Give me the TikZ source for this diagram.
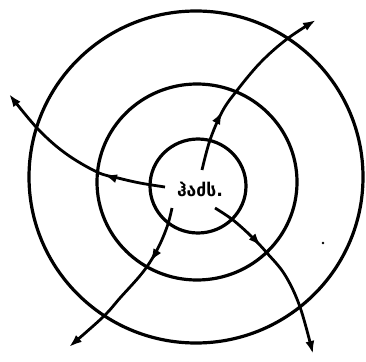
\documentclass[tikz,border=0pt]{standalone}
\usepackage{fontspec}
\newfontfamily\geofont{DejaVu Sans}
\usetikzlibrary{arrows.meta,decorations.markings}
\tikzset{
  ring/.style={draw=black,line width=3.2pt},
  ray/.style={draw=black,line width=2.8pt,-{Latex[length=13pt,width=9pt]},
    postaction={decorate}},
  midtip/.style={decoration={markings,mark=at position #1 with {\arrow{Latex[length=13pt,width=9pt]}}}},
  lbl/.style={font=\geofont\bfseries\fontsize{17.5}{19}\selectfont,inner sep=1pt}
}
\begin{document}
\begin{tikzpicture}[x=1pt,y=-1pt]
\useasboundingbox (0,0) rectangle (366,361);
% rings
\draw[ring] (196,177) ellipse[x radius=167,y radius=166];
\draw[ring] (197,182) ellipse[x radius=100,y radius=98];
\draw[ring] (198,186) ellipse[x radius=48,y radius=47];
% centre label
\node[lbl] (c) at (200,189) {ჰაძს.};
% start and end points
\coordinate (s1) at (202,170);
\coordinate (e1) at (316,20);
\coordinate (s2) at (165,187);
\coordinate (e2) at (9,94);
\coordinate (s3) at (172,208);
\coordinate (e3) at (69,347);
\coordinate (s4) at (215,208);
\coordinate (e4) at (313,354);
% rays
\draw[ray,midtip=0.32] plot[smooth,tension=0.6] coordinates {(s1) (210,140) (222,112) (235,93) (260,63) (287,39) (e1)};
\draw[ray,midtip=0.33] plot[smooth,tension=0.6] coordinates {(s2) (140,183) (118,178) (97,172) (65,153) (37,128) (e2)};
\draw[ray,midtip=0.33] plot[smooth,tension=0.6] coordinates {(s3) (167,227) (157,250) (143,272) (120,298) (103,317) (e3)};
\draw[ray,midtip=0.33] plot[smooth,tension=0.6] coordinates {(s4) (233,220) (252,237) (267,253) (285,275) (300,307) (e4)};
% speck
\fill (323,243) circle[radius=1.3];
\end{tikzpicture}
\end{document}
